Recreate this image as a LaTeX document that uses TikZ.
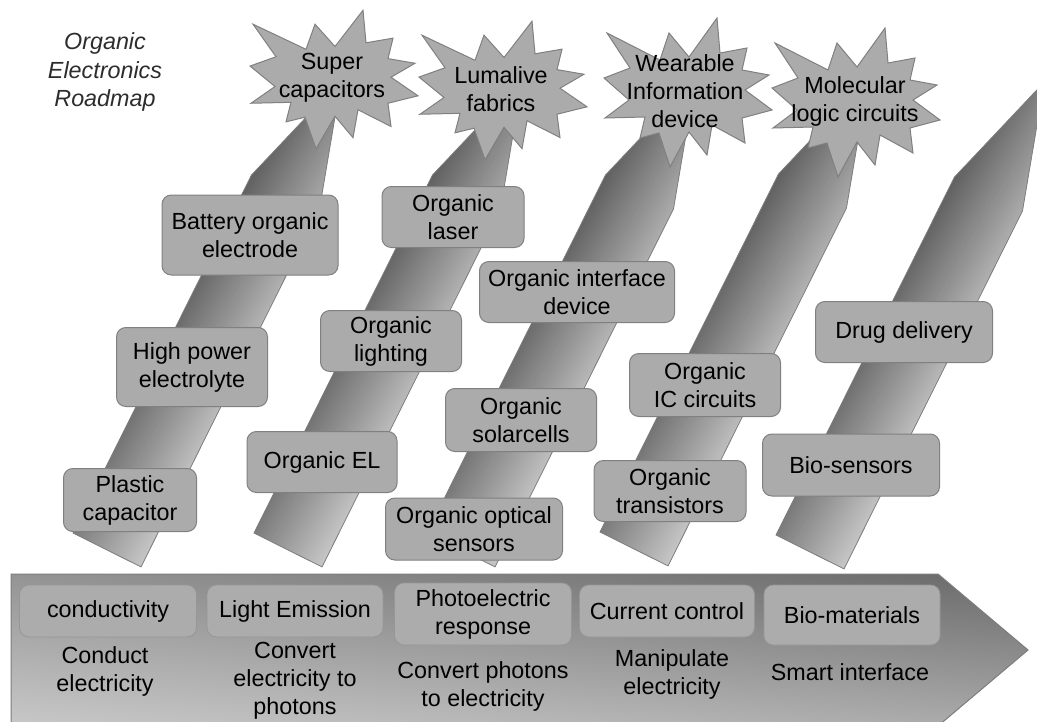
\documentclass[tikz,border=0pt]{standalone}
\usepackage{fontspec}
\setmainfont{Liberation Sans}
\usetikzlibrary{shadings}
\definecolor{boxfill}{RGB}{171,171,171}
\definecolor{boxline}{RGB}{128,128,128}
\definecolor{basefill}{RGB}{172,172,172}
\definecolor{baseline}{RGB}{150,150,150}
\definecolor{bandline}{RGB}{125,125,125}
\definecolor{titlecol}{RGB}{45,45,45}
\definecolor{bandD}{RGB}{88,88,88}
\definecolor{bandL}{RGB}{198,198,198}
\definecolor{baseUL}{RGB}{148,148,148}
\definecolor{baseUR}{RGB}{105,105,105}
\definecolor{baseLL}{RGB}{200,200,200}
\definecolor{baseLR}{RGB}{170,170,170}
\tikzset{
  txt/.style={align=center, inner sep=0pt, font={\fontsize{17.5pt}{21pt}\selectfont}},
  box/.style={txt, draw=boxline, fill=boxfill, rounded corners=7pt, line width=0.75pt},
  basebox/.style={txt, draw=baseline, fill=basefill, rounded corners=7pt, line width=0.6pt},
  starsty/.style={draw=boxline, fill=boxfill, line width=0.75pt, line join=miter},
  burst/.pic={\path[starsty] (-81,-60) -- (-28,-33) -- (-19,-60) -- (1,-36) -- (29,-75) -- (32,-40)
      -- (59,-45) -- (54,-23) -- (81,-18) -- (57,-3) -- (84,17) -- (54,25) -- (57,50) -- (24,32)
      -- (19,62) -- (1,39) -- (-18,74) -- (-29,40) -- (-48,45) -- (-43,24) -- (-83,25) -- (-59,7)
      -- (-84,-15) -- (-58,-25) -- cycle;}
}
\newcommand\rbox[7]{\node[#1, minimum width=#5*0.75pt, minimum height=#6*0.75pt] (#2) at (#3,#4) {#7};}
\newcommand\bandpath{(0,0) -- (400,0) -- (525,-38) -- (400,-76) -- (0,-76) -- cycle}
\begin{document}
\begin{tikzpicture}[x=0.75pt, y=-0.75pt]
\useasboundingbox (0,0) rectangle (1037,721);
% diagonal bands
\foreach \bx/\by in {73/533, 254/533, 427/533, 600/532, 776/535}{
  \begin{scope}[shift={(\bx,\by)}, rotate=63.5, x=0.75pt, y=0.75pt]
    \begin{scope}
      \clip (0,0) -- (400,0) -- (525,-38) -- (400,-76) -- (0,-76) -- cycle;
      \begin{scope}[rotate=-3.9]
        \foreach \w in {-84,-81,...,42}{
          \pgfmathsetmacro\p{min(100,max(0,(\w+1.5+76)/112*100))}
          \fill[bandD!\p!bandL] (-60,\w) rectangle (620,\w+3.5);
        }
      \end{scope}
    \end{scope}
    \draw[bandline, line width=0.6pt] (0,0) -- (400,0) -- (525,-38) -- (400,-76) -- (0,-76) -- cycle;
  \end{scope}
}
% stars
\pic[yscale=0.93] at (334,80) {burst};
\pic[yscale=0.93] at (503,91) {burst};
\pic at (688,93) {burst};
\pic at (856,103) {burst};
\node[txt] (s1) at (332,78) {Super\\capacitors};
\node[txt] (s2) at (501,89) {Lumalive\\fabrics};
\node[txt] (s3) at (685,91) {Wearable\\Information\\device};
\node[txt] (s4) at (855,101) {Molecular\\logic circuits};
% title
\node[txt, text=titlecol, font={\fontsize{17.5pt}{21.5pt}\selectfont\itshape}] (title) at (105,72) {Organic\\Electronics\\Roadmap};
% band boxes
\rbox{box}{b1a}{250}{235}{176}{80}{Battery organic\\electrode}
\rbox{box}{b1b}{192}{367}{151}{79}{High power\\electrolyte}
\rbox{box}{b1c}{130}{500}{133}{63}{Plastic\\capacitor}
\rbox{box}{b2a}{453}{217}{142}{61}{Organic\\laser}
\rbox{box}{b2b}{391}{341}{141}{61}{Organic\\lighting}
\rbox{box}{b2c}{322}{462}{150}{61}{Organic EL}
\rbox{box}{b3a}{577}{292}{195}{61}{Organic interface\\device}
\rbox{box}{b3b}{521}{420}{151}{63}{Organic\\solarcells}
\rbox{box}{b3c}{474}{529}{177}{62}{Organic optical\\sensors}
\rbox{box}{b4a}{705}{385}{151}{63}{Organic\\IC circuits}
\rbox{box}{b4b}{670}{491}{152}{61}{Organic\\transistors}
\rbox{box}{b5a}{904}{332}{177}{61}{Drug delivery}
\rbox{box}{b5b}{851}{465}{177}{62}{Bio-sensors}
% base arrow
\path[draw=bandline, line width=0.75pt,
  upper left=baseUL, upper right=baseUR, lower left=baseLL, lower right=baseLR]
  (11,574) -- (938,574) -- (1028,650) -- (938,726) -- (11,726) -- cycle;
\rbox{basebox}{c1}{108}{611}{177}{52}{conductivity}
\rbox{basebox}{c2}{295}{611}{176}{52}{Light Emission}
\rbox{basebox}{c3}{483}{614}{177}{62}{Photoelectric\\response}
\rbox{basebox}{c4}{667}{611}{175}{52}{Current control}
\rbox{basebox}{c5}{852}{615}{176}{60}{Bio-materials}
\node[txt] (d1) at (105,671) {Conduct\\electricity};
\node[txt] (d2) at (295,681) {Convert\\electricity to\\photons};
\node[txt] (d3) at (483,686) {Convert photons\\to electricity};
\node[txt] (d4) at (672,674) {Manipulate\\electricity};
\node[txt] (d5) at (850,672) {Smart interface};
\end{tikzpicture}
\end{document}
